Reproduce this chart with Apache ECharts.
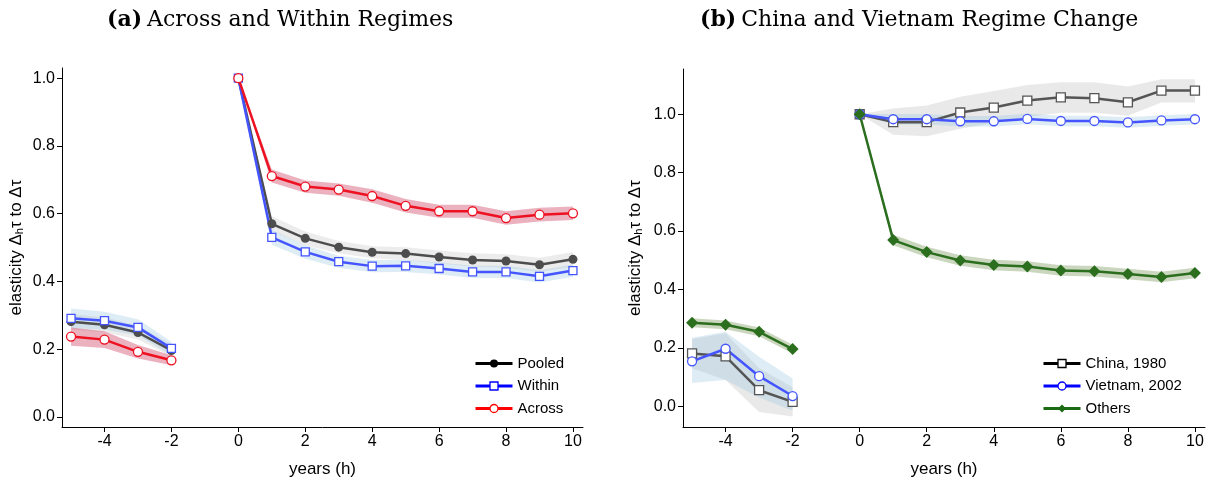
<!DOCTYPE html>
<html>
<head>
<meta charset="utf-8">
<script src="https://cdn.jsdelivr.net/npm/echarts@6/dist/echarts.min.js"></script>
<style>
  html, body { margin: 0; padding: 0; background: #fff; }
  #chart { width: 1225px; height: 486px; }
</style>
</head>
<body>
<div id="chart"></div>
<script>
// event-time horizons (gap between -2 and 0)
const years = [-5, -4, -3, -2, 0, 1, 2, 3, 4, 5, 6, 7, 8, 9, 10];
const xTicks = [-4, -2, 0, 2, 4, 6, 8, 10];

// panel (a)
const yTicksA = [0, 0.2, 0.4, 0.6, 0.8, 1.0];
const pooled   = [0.281, 0.272, 0.249, 0.196, 1.0, 0.570, 0.527, 0.501, 0.486, 0.482, 0.472, 0.463, 0.460, 0.449, 0.465];
const pooledLo = [0.258, 0.250, 0.228, 0.178, 1.0, 0.548, 0.507, 0.483, 0.468, 0.463, 0.453, 0.443, 0.440, 0.428, 0.443];
const pooledHi = [0.304, 0.294, 0.270, 0.214, 1.0, 0.592, 0.547, 0.519, 0.504, 0.501, 0.491, 0.483, 0.480, 0.470, 0.487];
const within   = [0.291, 0.284, 0.264, 0.202, 1.0, 0.530, 0.487, 0.458, 0.445, 0.446, 0.438, 0.428, 0.428, 0.415, 0.432];
const withinLo = [0.262, 0.258, 0.240, 0.182, 1.0, 0.508, 0.467, 0.440, 0.427, 0.428, 0.420, 0.410, 0.410, 0.397, 0.414];
const withinHi = [0.320, 0.310, 0.288, 0.222, 1.0, 0.552, 0.507, 0.476, 0.463, 0.464, 0.456, 0.446, 0.446, 0.433, 0.450];
const across   = [0.237, 0.228, 0.192, 0.167, 1.0, 0.711, 0.680, 0.671, 0.652, 0.623, 0.607, 0.607, 0.587, 0.597, 0.601];
const acrossLo = [0.210, 0.203, 0.172, 0.152, 1.0, 0.692, 0.662, 0.653, 0.632, 0.603, 0.588, 0.588, 0.567, 0.577, 0.581];
const acrossHi = [0.264, 0.253, 0.212, 0.182, 1.0, 0.730, 0.698, 0.689, 0.672, 0.643, 0.626, 0.626, 0.607, 0.617, 0.621];

// panel (b)
const yTicksB = [0, 0.2, 0.4, 0.6, 0.8, 1.0];
const china     = [0.181, 0.171, 0.055, 0.015, 1.0, 0.973, 0.973, 1.006, 1.023, 1.047, 1.058, 1.055, 1.041, 1.081, 1.081];
const chinaLo   = [0.130, 0.090, -0.020, -0.035, 1.0, 0.930, 0.925, 0.950, 0.970, 0.990, 1.005, 1.005, 0.995, 1.040, 1.040];
const chinaHi   = [0.230, 0.250, 0.130, 0.065, 1.0, 1.020, 1.030, 1.060, 1.080, 1.100, 1.110, 1.110, 1.095, 1.120, 1.120];
const vietnam   = [0.154, 0.197, 0.103, 0.035, 1.0, 0.983, 0.983, 0.976, 0.976, 0.984, 0.977, 0.977, 0.972, 0.979, 0.983];
const vietnamLo = [0.080, 0.090, 0.030, -0.015, 1.0, 0.965, 0.965, 0.958, 0.958, 0.966, 0.959, 0.959, 0.954, 0.961, 0.965];
const vietnamHi = [0.235, 0.255, 0.170, 0.095, 1.0, 1.001, 1.001, 0.994, 0.994, 1.002, 0.995, 0.995, 0.990, 0.997, 1.001];
const others    = [0.286, 0.279, 0.255, 0.196, 1.0, 0.569, 0.528, 0.499, 0.484, 0.479, 0.465, 0.462, 0.453, 0.443, 0.456];
const othersLo  = [0.271, 0.264, 0.240, 0.181, 1.0, 0.551, 0.510, 0.481, 0.466, 0.461, 0.447, 0.444, 0.435, 0.425, 0.438];
const othersHi  = [0.301, 0.294, 0.270, 0.211, 1.0, 0.587, 0.546, 0.517, 0.502, 0.497, 0.483, 0.480, 0.471, 0.461, 0.474];

const SANS = 'Liberation Sans, Arial, sans-serif';
const SERIF = 'DejaVu Serif, Liberation Serif, serif';

// confidence band as one polygon per segment (pre / post)
function band(ai, lo, hi, fill) {
  const segs = [[0, 4], [4, 15]];
  return segs.map(([a, b]) => {
    const pts = [];
    for (let i = a; i < b; i++) pts.push([years[i], lo[i], hi[i]]);
    return {
      type: 'custom', xAxisIndex: ai, yAxisIndex: ai, silent: true,
      data: pts, encode: { x: 0, y: [1, 2] },
      renderItem(params, api) {
        if (params.dataIndex !== 0) return;
        const top = pts.map(p => api.coord([p[0], p[2]]));
        const bot = pts.map(p => api.coord([p[0], p[1]])).reverse();
        return { type: 'polygon', shape: { points: top.concat(bot) }, style: { fill: fill } };
      }
    };
  });
}

function line(ai, name, vals, color, symbol, size, hollow) {
  const data = [];
  years.forEach((x, i) => {
    if (x === 0) data.push([-1, '-']);
    data.push([x, vals[i]]);
  });
  return {
    type: 'line', name: name, xAxisIndex: ai, yAxisIndex: ai,
    data: data, symbol: symbol, symbolSize: size, showSymbol: true,
    lineStyle: { color: color, width: 2.5 },
    itemStyle: hollow ? { color: '#fff', borderColor: color, borderWidth: 1.3 } : { color: color, borderWidth: 0 },
    emphasis: { disabled: true }, animation: false
  };
}

function xAxis(gi) {
  return {
    type: 'value', gridIndex: gi, min: -5.27, max: 10.3,
    name: 'years (h)', nameLocation: 'middle', nameGap: 34,
    nameTextStyle: { fontFamily: SANS, fontSize: 17, color: '#000' },
    axisLine: { onZero: false, lineStyle: { color: '#000', width: 1 } },
    axisTick: { customValues: xTicks, length: 5, lineStyle: { color: '#000' } },
    axisLabel: { customValues: xTicks, fontFamily: SANS, fontSize: 16, color: '#000', margin: 7 },
    splitLine: { show: false }
  };
}

function yAxis(gi, min, max, ticks, gap) {
  return {
    type: 'value', gridIndex: gi, min: min, max: max,
    name: 'elasticity Δ{s|h}τ to Δτ', nameLocation: 'middle', nameGap: gap, nameRotate: 90,
    nameTextStyle: { fontFamily: SANS, fontSize: 17, color: '#000',
      rich: { s: { fontFamily: SANS, fontSize: 11, color: '#000', verticalAlign: 'bottom', padding: [7, 0, 0, 0] } } },
    axisLine: { show: true, onZero: false, lineStyle: { color: '#000', width: 1 } },
    axisTick: { show: true, customValues: ticks, length: 5, lineStyle: { color: '#000' } },
    axisLabel: { customValues: ticks, fontFamily: SANS, fontSize: 16, color: '#000', margin: 7,
      formatter: v => v.toFixed(1) },
    splitLine: { show: false }
  };
}

function title(left, tag, text) {
  return {
    left: left, top: 4,
    text: '{b|' + tag + '} {n|' + text + '}',
    textStyle: {
      fontWeight: 'normal',
      rich: {
        b: { fontFamily: SERIF, fontSize: 22, fontWeight: 'bold', color: '#000' },
        n: { fontFamily: SERIF, fontSize: 22, fontWeight: 'normal', color: '#000' }
      }
    }
  };
}

function legend(left, items) {
  return {
    orient: 'vertical', left: left, top: 351, itemWidth: 37, itemHeight: 10, itemGap: 7.5,
    textStyle: { fontFamily: SANS, fontSize: 15, color: '#000' },
    data: items
  };
}

const chart = echarts.init(document.getElementById('chart'), null, { renderer: 'canvas' });

const option = {
  animation: false,
  backgroundColor: '#fff',
  title: [
    title(102, '(a)', 'Across and Within Regimes'),
    title(695, '(b)', 'China and Vietnam Regime Change')
  ],
  legend: [
    legend(469, [
      { name: 'Pooled', itemStyle: { color: '#000' }, lineStyle: { color: '#000', width: 3 } },
      { name: 'Within', itemStyle: { color: '#fff', borderColor: '#00f', borderWidth: 1.3 }, lineStyle: { color: '#00f', width: 3 } },
      { name: 'Across', itemStyle: { color: '#fff', borderColor: '#f00', borderWidth: 1.3 }, lineStyle: { color: '#f00', width: 3 } }
    ]),
    legend(1037, [
      { name: 'China, 1980', itemStyle: { color: '#fff', borderColor: '#000', borderWidth: 1.3 }, lineStyle: { color: '#000', width: 3 } },
      { name: 'Vietnam, 2002', itemStyle: { color: '#fff', borderColor: '#00f', borderWidth: 1.3 }, lineStyle: { color: '#00f', width: 3 } },
      { name: 'Others', itemStyle: { color: '#1a6b12' }, lineStyle: { color: '#1a6b12', width: 3 } }
    ])
  ],
  grid: [
    { left: 62, right: 642, top: 68, bottom: 59 },
    { left: 683, right: 20, top: 69, bottom: 59 }
  ],
  xAxis: [xAxis(0), xAxis(1)],
  yAxis: [
    yAxis(0, -0.03, 1.03, yTicksA, 37),
    yAxis(1, -0.071, 1.155, yTicksB, 39)
  ],
  series: [
    ...band(0, pooledLo, pooledHi, 'rgba(200,200,200,0.35)'),
    line(0, 'Pooled', pooled, '#4d4d4d', 'circle', 9, false),
    ...band(0, withinLo, withinHi, 'rgba(160,200,225,0.35)'),
    line(0, 'Within', within, '#4455ff', 'rect', 8, true),
    ...band(0, acrossLo, acrossHi, 'rgba(205,60,95,0.4)'),
    line(0, 'Across', across, '#ee1122', 'circle', 9, true),

    ...band(1, chinaLo, chinaHi, 'rgba(200,200,200,0.4)'),
    line(1, 'China, 1980', china, '#555555', 'rect', 9, true),
    ...band(1, vietnamLo, vietnamHi, 'rgba(160,200,225,0.35)'),
    line(1, 'Vietnam, 2002', vietnam, '#4455ff', 'circle', 9, true),
    ...band(1, othersLo, othersHi, 'rgba(80,120,40,0.3)'),
    line(1, 'Others', others, '#2a6e1e', 'diamond', 12, false)
  ]
};

chart.setOption(option);
</script>
</body>
</html>
